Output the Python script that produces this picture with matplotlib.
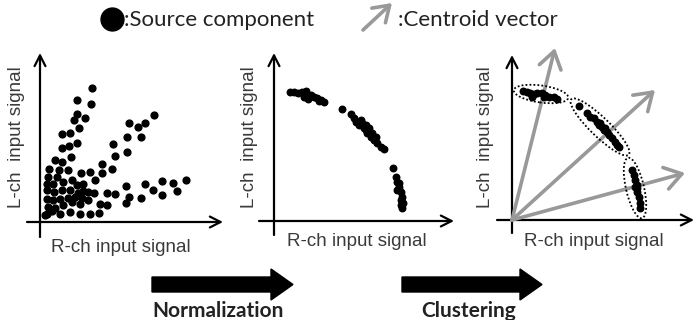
import matplotlib
matplotlib.use("Agg")
import matplotlib.pyplot as plt
from matplotlib.patches import Ellipse

W, H = 696, 320

# raw source components (before normalization)
raw_x = [52, 37, 51, 37, 45, 34, 39, 22, 30, 37, 22, 29, 15, 22, 31, 9, 19, 28, 8, 17,
         41, 50, 62, 62, 72, 73, 75, 87, 87, 89, 98, 101, 105, 114, 7, 13, 23, 32, 37, 43,
         7, 14, 22, 30, 38, 43, 55, 7, 13, 20, 28, 35, 42, 48, 54, 67, 75, 86, 89, 86,
         101, 105, 113, 122, 122, 133, 137, 146, 8, 15, 23, 32, 40, 48, 60, 67, 7, 12, 20, 30,
         40, 50, 59, 5]
raw_y = [134, 122, 118, 108, 104, 102, 94, 88, 89, 79, 74, 76, 62, 60, 65, 53, 52, 52, 45, 45,
         49, 50, 58, 49, 53, 78, 66, 70, 85, 99, 95, 85, 99, 107, 38, 38, 40, 42, 37, 38,
         32, 30, 32, 32, 29, 31, 42, 23, 22, 23, 24, 25, 24, 30, 29, 29, 28, 36, 25, 19,
         24, 38, 32, 41, 27, 39, 31, 42, 15, 14, 17, 20, 18, 22, 18, 17, 8, 11, 8, 10,
         8, 8, 9, 7]

# normalized source components
norm_x = [16, 20, 24, 28, 32, 33, 30, 37, 40, 43, 47, 50, 45, 34,
          68, 77, 80, 82, 87, 88, 92, 90, 95, 93, 98, 97, 100, 103, 107, 110, 85, 92, 102,
          119, 122, 123, 125, 127, 123, 128, 127, 129, 128, 127, 125]
norm_y = [129, 129, 128, 129, 130, 126, 124, 126, 124, 123, 121, 119, 120, 122,
          112, 107, 103, 99, 101, 98, 96, 93, 93, 88, 88, 84, 81, 78, 74, 72, 96, 91, 84,
          53, 44, 39, 34, 29, 31, 24, 21, 18, 13, 16, 38]

# clustered components
clus_x = [11, 15, 18, 22, 25, 30, 33, 37, 42, 45, 20, 32,
          67, 75, 78, 82, 85, 87, 90, 92, 95, 97, 100, 103, 105, 107, 88, 93,
          120, 122, 123, 125, 123, 125, 127, 128, 128, 125]
clus_y = [129, 128, 127, 126, 127, 127, 125, 123, 123, 121, 123, 123,
          114, 107, 103, 102, 98, 95, 93, 90, 88, 85, 82, 78, 75, 73, 97, 92,
          50, 45, 40, 35, 33, 28, 23, 17, 12, 32]

# cluster ellipses: centre x, centre y, length, width, angle
ell_cx = [29, 88, 123]
ell_cy = [126, 93, 32]
ell_w = [55, 80, 62]
ell_h = [17, 19, 18]
ell_ang = [-8, -44, -77]

# centroid vectors
cent_x = [43, 143, 173]
cent_y = [172, 130, 47]

plt.rcParams['font.family'] = ['Liberation Sans', 'DejaVu Sans']
fig = plt.figure(figsize=(W / 100, H / 100), dpi=100)

base = fig.add_axes([0, 0, 1, 1])
base.set_xlim(0, W)
base.set_ylim(H, 0)
base.axis('off')


def panel(ox, oy, x0, x1, y0, y1):
    ax = fig.add_axes([x0 / W, 1 - y1 / H, (x1 - x0) / W, (y1 - y0) / H])
    ax.set_xlim(x0 - ox, x1 - ox)
    ax.set_ylim(oy - y1, oy - y0)
    ax.axis('off')
    return ax


def axes_arrows(ax, xa, xb, ya, yb, ylab_x, ylab_y, xlab_x, xlab_y):
    ap = dict(arrowstyle='->,head_length=0.55,head_width=0.28', color='black', lw=1.6,
              shrinkA=0, shrinkB=0, mutation_scale=14)
    ax.annotate('', xy=(xb, 0), xytext=(xa, 0), arrowprops=ap, annotation_clip=False)
    ax.annotate('', xy=(0, yb), xytext=(0, ya), arrowprops=ap, annotation_clip=False)
    ax.text(ylab_x, ylab_y, 'L-ch  input signal', rotation=90, ha='center', va='center',
            fontsize=13.5, color='#3a3a3a')
    ax.text(xlab_x, xlab_y, 'R-ch input signal', ha='center', va='center',
            fontsize=13.5, color='#3a3a3a')


ax1 = panel(40, 222, 0, 232, 40, 262)
axes_arrows(ax1, -13, 183, -15, 169, -23, 85, 81, -25)
ax1.scatter(raw_x, raw_y, s=24, color='black', zorder=3, clip_on=False)

ax2 = panel(274, 221, 232, 464, 40, 262)
axes_arrows(ax2, -15, 180, -14, 168, -25, 84, 83, -21)
ax2.scatter(norm_x, norm_y, s=22, color='black', zorder=3, clip_on=False)

ax3 = panel(512, 220, 464, 696, 40, 262)
axes_arrows(ax3, -15, 182, -13, 165, -26, 83, 82, -22)
for tx, ty in zip(cent_x, cent_y):
    ax3.annotate('', xy=(tx, ty), xytext=(0, 0), annotation_clip=False,
                 arrowprops=dict(arrowstyle='->,head_length=0.6,head_width=0.4',
                                 color='#999999', lw=2.6, shrinkA=0, shrinkB=0,
                                 mutation_scale=20))
ax3.scatter(clus_x, clus_y, s=22, color='black', zorder=3, clip_on=False)
for cx, cy, w, h, a in zip(ell_cx, ell_cy, ell_w, ell_h, ell_ang):
    ax3.add_patch(Ellipse((cx, cy), w, h, angle=a, fill=False, ls=(0, (1, 1.2)),
                          lw=1.3, color='black', clip_on=False, zorder=4))

# legend
base.plot([112], [19], 'o', color='black', markersize=16.5)
base.text(124, 20, ':Source component', va='center', ha='left', fontsize=16,
          family=['Lato', 'DejaVu Sans'], color='#222222')
base.annotate('', xy=(392, 3), xytext=(363, 30),
              arrowprops=dict(arrowstyle='->,head_length=0.6,head_width=0.4',
                              color='#999999', lw=2.6, shrinkA=0, shrinkB=0,
                              mutation_scale=18))
base.text(398, 20, ':Centroid vector', va='center', ha='left', fontsize=16,
          family=['Lato', 'DejaVu Sans'], color='#222222')

# process arrows
base.arrow(152, 284.5, 141, 0, width=15, head_width=31, head_length=22,
           length_includes_head=True, color='black')
base.text(218, 317, 'Normalization', ha='center', va='baseline', fontsize=15,
          fontweight='bold', family=['Lato', 'DejaVu Sans'], color='#222222')
base.arrow(402, 284.5, 140, 0, width=15, head_width=31, head_length=22,
           length_includes_head=True, color='black')
base.text(469, 317, 'Clustering', ha='center', va='baseline', fontsize=15,
          fontweight='bold', family=['Lato', 'DejaVu Sans'], color='#222222')

fig.savefig('out.png', dpi=100)
